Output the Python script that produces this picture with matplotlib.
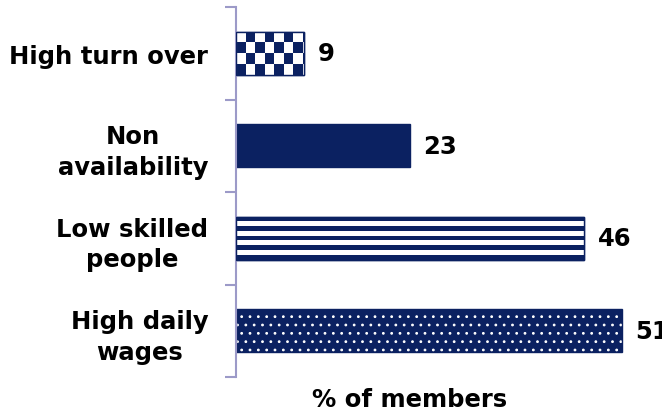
import numpy as np
import matplotlib.pyplot as plt
from matplotlib.colors import ListedColormap

categories = ['High turn over', 'Non\navailability', 'Low skilled\npeople', 'High daily\nwages']
values = [9, 23, 46, 51]
patterns = ['checker', 'solid', 'stripes', 'dots']

navy = '#0b2161'
axis_col = '#9c9ac8'
bar_h = 0.47
fs = 17.5

plt.rcParams['font.family'] = ['DejaVu Sans']
plt.rcParams['hatch.linewidth'] = 0.8

fig = plt.figure(figsize=(6.62, 4.14), dpi=100)
ax = fig.add_axes([236 / 662, 1 - 378 / 414, (652 - 236) / 662, (378 - 8) / 414])

ypos = np.arange(len(categories))
cmap = ListedColormap(['white', navy])
for y, v, p in zip(ypos, values, patterns):
    if p == 'solid':
        ax.barh(y, v, height=bar_h, color=navy, edgecolor=navy, linewidth=1)
    elif p == 'dots':
        ax.barh(y, v, height=bar_h, color=navy, edgecolor='white', hatch='..', linewidth=0)
        ax.barh(y, v, height=bar_h, fill=False, edgecolor=navy, linewidth=1)
    else:
        bar = ax.barh(y, v, height=bar_h, color='white', edgecolor=navy, linewidth=1)[0]
        if p == 'checker':
            nc, nr = int(np.ceil(v / 1.25)), 4
            grid = np.indices((nr, nc)).sum(axis=0) % 2
            x1 = nc * 1.25
        else:
            grid = (np.arange(9) % 2 == 0).astype(int).reshape(-1, 1)
            x1 = v
        img = ax.imshow(grid, cmap=cmap, extent=(0, x1, y + bar_h / 2, y - bar_h / 2),
                        aspect='auto', interpolation='nearest', zorder=2)
        img.set_clip_path(bar)
        ax.barh(y, v, height=bar_h, fill=False, edgecolor=navy, linewidth=1, zorder=3)
    ax.text(v + 1.8, y, str(v), va='center', ha='left', fontsize=fs,
            fontweight='bold', color='black', clip_on=False)

ax.set_xlim(0, 55)
ax.set_ylim(3.5, -0.5)

ax.set_yticks(ypos)
ax.set_yticklabels(categories, fontsize=fs, fontweight='bold', ha='right',
                   multialignment='center', linespacing=1.35)
ax.tick_params(axis='y', which='major', length=0, pad=20)
ax.set_yticks(np.arange(-0.5, 4, 1), minor=True)
ax.tick_params(axis='y', which='minor', length=8, width=1.5, color=axis_col)

ax.set_xticks([])
for s in ['top', 'right', 'bottom']:
    ax.spines[s].set_visible(False)
ax.spines['left'].set_color(axis_col)
ax.spines['left'].set_linewidth(1.5)

ax.set_xlabel('% of members', fontsize=fs, fontweight='bold', va='center')
ax.xaxis.set_label_coords((410 - 236) / (652 - 236), -(400 - 378) / 370)

fig.savefig('out.png', dpi=100)
